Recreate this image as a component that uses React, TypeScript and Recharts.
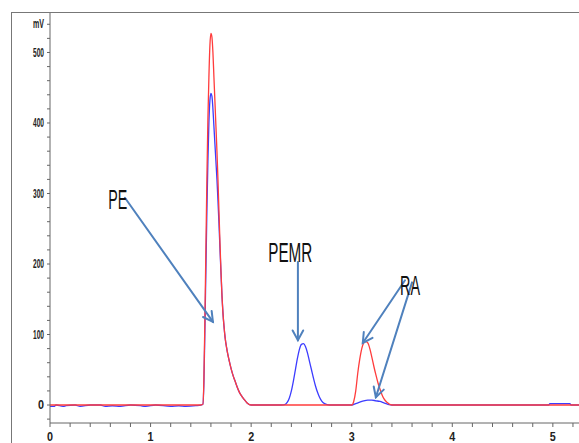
import {
  LineChart,
  Line,
  XAxis,
  YAxis,
  ReferenceLine,
  ReferenceDot,
} from "recharts";

// red trace (retention time in min, signal in mV)
const redTimes = [
  0, 1.5, 1.52, 1.53, 1.54, 1.55, 1.56, 1.57, 1.58, 1.59, 1.6, 1.61, 1.62,
  1.63, 1.64, 1.65, 1.66, 1.67, 1.68, 1.69, 1.7, 1.71, 1.72, 1.73, 1.74, 1.76,
  1.78, 1.8, 1.82, 1.84, 1.86, 1.88, 1.9, 1.93, 1.96, 2.0, 3.0, 3.02, 3.04,
  3.06, 3.08, 3.1, 3.12, 3.14, 3.16, 3.18, 3.2, 3.22, 3.24, 3.26, 3.28, 3.3,
  3.32, 3.35, 3.4, 5.26,
];
const redValues = [
  0, 0, 1, 35, 120, 220, 320, 405, 465, 510, 527, 522, 500, 465, 430, 395,
  360, 320, 275, 230, 190, 155, 130, 112, 97, 78, 64, 52, 42, 34, 26, 19, 14,
  8, 3, 0, 0, 5, 20, 45, 65, 80, 88, 90, 88, 80, 68, 55, 43, 32, 23, 15, 9, 4,
  0, 0,
];

// blue trace
const blueTimes = [
  0, 0.04, 0.06, 0.13, 0.16, 0.25, 0.3, 0.4, 0.5, 0.55, 0.62, 0.7, 0.8, 0.9,
  0.95, 1.05, 1.2, 1.28, 1.35, 1.45, 1.5, 1.52, 1.53, 1.54, 1.55, 1.56, 1.57,
  1.58, 1.59, 1.6, 1.61, 1.62, 1.63, 1.64, 1.65, 1.66, 1.67, 1.68, 1.69, 1.7,
  1.71, 1.72, 1.73, 1.74, 1.76, 1.78, 1.8, 1.82, 1.84, 1.86, 1.88, 1.9, 1.93,
  1.96, 2.0, 2.3, 2.34, 2.36, 2.38, 2.4, 2.42, 2.44, 2.46, 2.48, 2.5, 2.52,
  2.54, 2.56, 2.58, 2.6, 2.62, 2.64, 2.66, 2.68, 2.7, 2.73, 2.78, 3.0, 3.04,
  3.08, 3.12, 3.16, 3.2, 3.24, 3.28, 3.32, 3.36, 3.4, 4.96, 4.97, 5.17, 5.18,
  5.26,
];
const blueValues = [
  -2, -2, 0, -2, -1, 0, -2, 0, 0, -2, -1, -2, 0, -1, -2, 0, -2, -1, -2, -1, 0,
  1, 30, 105, 190, 275, 345, 400, 432, 442, 438, 420, 395, 370, 345, 320, 290,
  258, 222, 188, 155, 130, 112, 97, 78, 64, 52, 42, 34, 26, 19, 14, 8, 3, 0, 0,
  1, 4, 10, 20, 34, 50, 66, 79, 86, 87, 83, 74, 62, 50, 38, 27, 18, 11, 6, 2,
  0, 0, 2, 4, 6, 7, 7, 6, 5, 3, 1, 0, 0, 2, 2, 0, 0,
];

const xTicks = [
  0, 0.2, 0.4, 0.6, 0.8, 1, 1.2, 1.4, 1.6, 1.8, 2, 2.2, 2.4, 2.6, 2.8, 3, 3.2,
  3.4, 3.6, 3.8, 4, 4.2, 4.4, 4.6, 4.8, 5, 5.2,
];
const yTicks = [
  -20, 0, 20, 40, 60, 80, 100, 120, 140, 160, 180, 200, 220, 240, 260, 280,
  300, 320, 340, 360, 380, 400, 420, 440, 460, 480, 500, 520, 540,
];

// peak labels and arrows (in data units)
const peakLabels = [
  { name: "PE", t: 0.58, v: 278, w: 19 },
  { name: "PEMR", t: 2.17, v: 203, w: 44 },
  { name: "RA", t: 3.48, v: 156, w: 20 },
];
const arrows = [
  { from: [0.745, 294], to: [1.62, 118] },
  { from: [2.465, 203], to: [2.465, 92] },
  { from: [3.53, 177], to: [3.11, 88] },
  { from: [3.6, 174], to: [3.24, 11] },
];

const redData = redTimes.map((t, i) => ({ t, v: redValues[i] }));
const blueData = blueTimes.map((t, i) => ({ t, v: blueValues[i] }));

const axisFont = "'Liberation Sans', Arial, sans-serif";

const XTick = (props: any) => {
  const { x, y, payload } = props;
  const val = payload.value;
  if (Math.abs(val - Math.round(val)) > 0.001) return <g />;
  return (
    <text
      x={x}
      y={y + 3}
      dy="0.71em"
      textAnchor="middle"
      fontFamily={axisFont}
      fontSize={12}
      fontWeight="bold"
      fill="#222"
      textLength={6}
      lengthAdjust="spacingAndGlyphs"
    >
      {Math.round(val)}
    </text>
  );
};

const YTick = (props: any) => {
  const { x, y, payload } = props;
  const val = payload.value;
  let txt = "";
  if (val === 540) txt = "mV";
  else if (val >= 0 && val % 100 === 0) txt = String(val);
  if (!txt) return <g />;
  return (
    <text
      x={x - 1}
      y={y}
      dy="0.35em"
      textAnchor="end"
      fontFamily={axisFont}
      fontSize={12}
      fontWeight="bold"
      fill="#222"
      textLength={txt.length === 1 ? 6 : 11}
      lengthAdjust="spacingAndGlyphs"
    >
      {txt}
    </text>
  );
};

const arrowShape = (props: any) => {
  const { x1, y1, x2, y2 } = props;
  const ang = Math.atan2(y2 - y1, x2 - x1);
  const len = 11;
  const spread = 0.5;
  const ax = x2 - len * Math.cos(ang - spread);
  const ay = y2 - len * Math.sin(ang - spread);
  const bx = x2 - len * Math.cos(ang + spread);
  const by = y2 - len * Math.sin(ang + spread);
  return (
    <g stroke="#4f81bd" strokeWidth={2} fill="none" strokeLinecap="round">
      <line x1={x1} y1={y1} x2={x2} y2={y2} />
      <polyline points={`${ax},${ay} ${x2},${y2} ${bx},${by}`} />
    </g>
  );
};

const labelShape = (w: number, name: string) => (props: any) => (
  <text
    x={props.cx}
    y={props.cy}
    fontFamily="'Liberation Sans', Arial, sans-serif"
    fontSize={27}
    fill="#111"
    textLength={w}
    lengthAdjust="spacingAndGlyphs"
  >
    {name}
  </text>
);

const App = () => {
  return (
    <div
      style={{
        position: "absolute",
        left: 0,
        top: 0,
        width: 579,
        height: 443,
        overflow: "hidden",
        background: "#fff",
      }}
    >
      <div
        style={{
          position: "absolute",
          left: 11,
          top: 12,
          width: 580,
          height: 440,
          borderLeft: "1px solid #777",
          borderTop: "1px solid #777",
        }}
      />
      <div style={{ position: "absolute", left: 0, top: 0 }}>
        <LineChart
          width={579}
          height={443}
          margin={{ top: 13, right: 0, bottom: 0, left: 0 }}
        >
          <XAxis
            type="number"
            dataKey="t"
            domain={[0, 5.26]}
            ticks={xTicks}
            allowDataOverflow
            height={20}
            tickSize={4}
            tickMargin={2}
            stroke="#666"
            tick={XTick}
            interval={0}
          />
          <YAxis
            type="number"
            domain={[-25.5, 556]}
            ticks={yTicks}
            allowDataOverflow
            width={50}
            tickSize={3}
            tickMargin={2}
            stroke="#666"
            tick={YTick}
            interval={0}
          />
          <Line
            data={blueData}
            dataKey="v"
            type="monotone"
            stroke="#3c3cff"
            strokeWidth={1.3}
            dot={false}
            isAnimationActive={false}
          />
          <Line
            data={redData}
            dataKey="v"
            type="monotone"
            stroke="#ff3c3c"
            strokeWidth={1.3}
            dot={false}
            isAnimationActive={false}
          />
          {arrows.map((a, i) => (
            <ReferenceLine
              key={"a" + i}
              segment={[
                { x: a.from[0], y: a.from[1] },
                { x: a.to[0], y: a.to[1] },
              ]}
              shape={arrowShape}
              ifOverflow="visible"
            />
          ))}
          {peakLabels.map((p) => (
            <ReferenceDot
              key={p.name}
              x={p.t}
              y={p.v}
              shape={labelShape(p.w, p.name)}
              ifOverflow="visible"
            />
          ))}
        </LineChart>
      </div>
    </div>
  );
};

export default App;
